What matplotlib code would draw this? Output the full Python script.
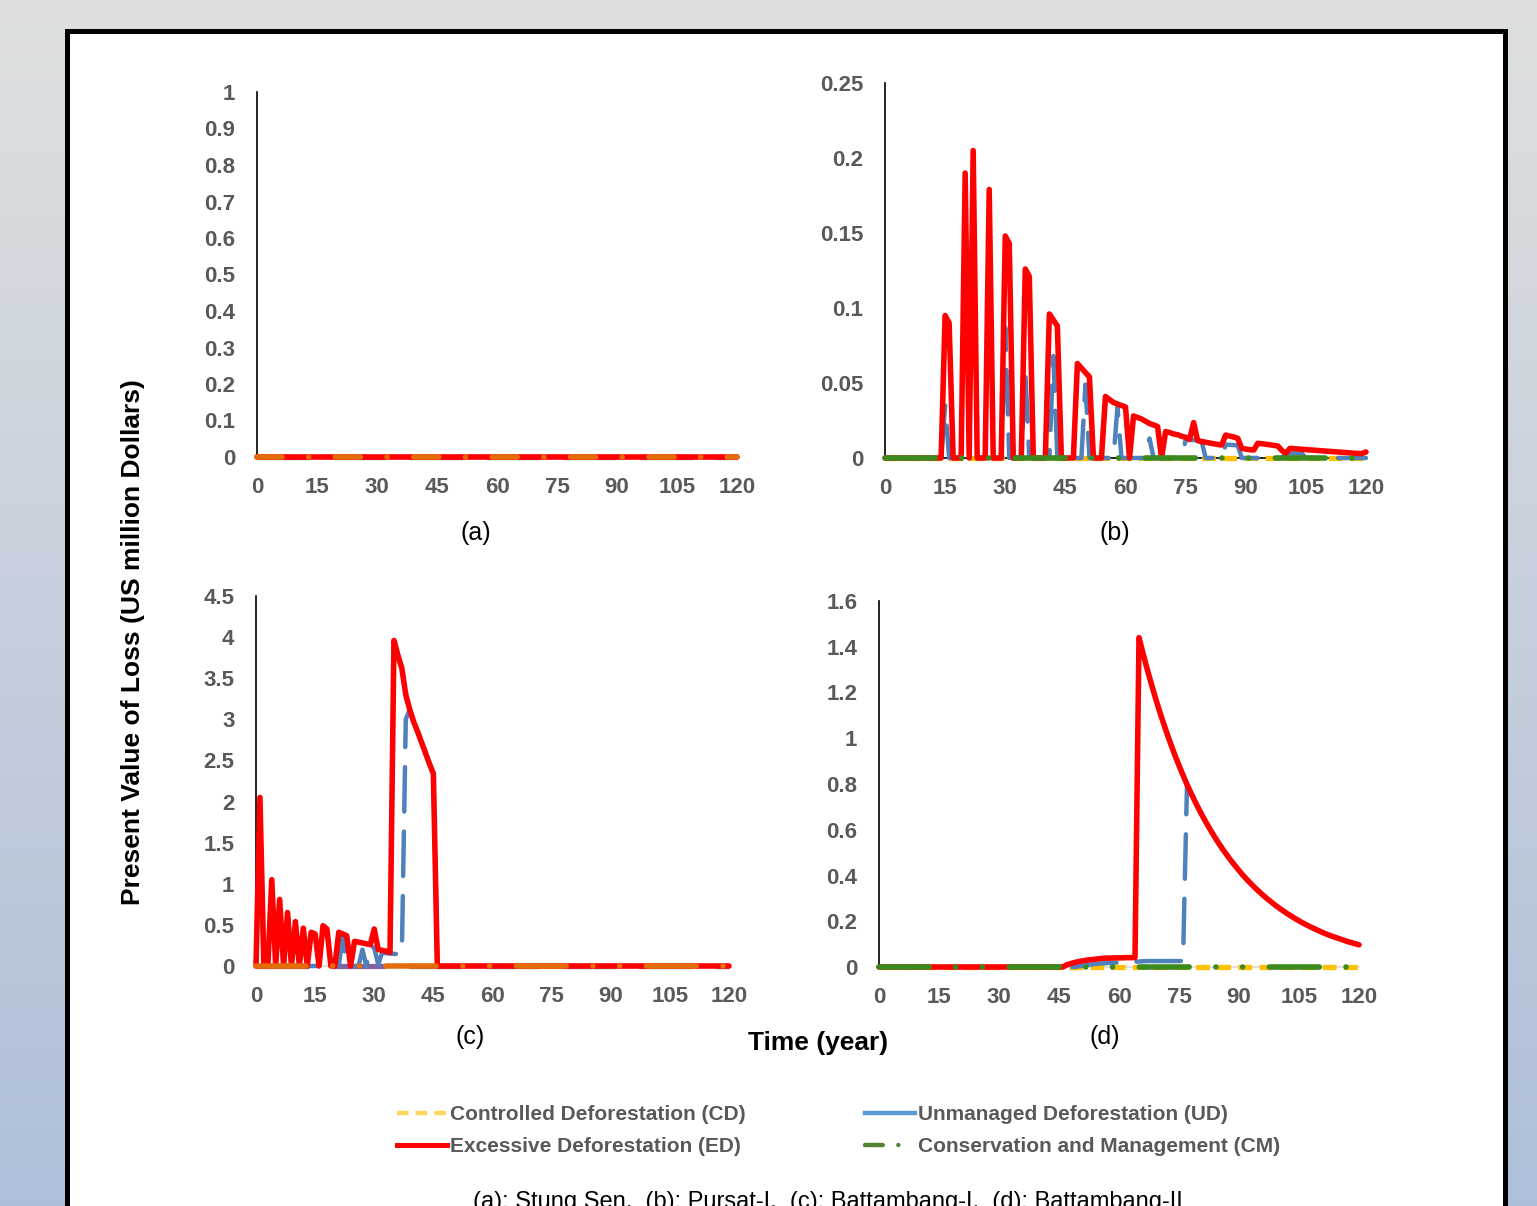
import numpy as np
import matplotlib.pyplot as plt
from matplotlib.lines import Line2D
from matplotlib.patches import Rectangle

plt.rcParams['font.family'] = ['Liberation Sans', 'DejaVu Sans']

W, H = 1537, 1206
years = list(range(0, 121))

# (a) Stung Sen: every scenario is zero
ed_a = [0.0] * 121
cm_a = [0.0] * 121
cd_a = [0.0] * 121
ud_a = [0.0] * 121

# (b) Pursat-I
ed_b = ([0] * 15 +
        [0.095, 0.090, 0, 0, 0, 0.190, 0, 0.205, 0, 0] +
        [0, 0.179, 0, 0, 0, 0.148, 0.143, 0, 0, 0] +
        [0.126, 0.121, 0, 0, 0, 0, 0.096, 0.092, 0.088, 0] +
        [0, 0, 0, 0.063, 0.060, 0.057, 0.054, 0, 0, 0] +
        [0.041, 0.039, 0.037, 0.036, 0.035, 0.034, 0, 0.028, 0.027, 0.026] +
        [0.0245, 0.023, 0.022, 0.021, 0, 0.0176, 0.017, 0.016, 0.0155, 0.0145] +
        [0.0138, 0.0125, 0.0236, 0.0115, 0.011, 0.0105, 0.010, 0.0095, 0.009, 0.0087] +
        [0.0153, 0.0146, 0.014, 0.0131, 0.0064, 0.006, 0.0056, 0.0053, 0.0098, 0.0095] +
        [0.0092, 0.0088, 0.0084, 0.008, 0.005, 0.0031, 0.0064, 0.0062, 0.006, 0.0058] +
        [0.0056, 0.0054, 0.0052, 0.005, 0.0048, 0.0046, 0.0044, 0.0042, 0.004, 0.0038] +
        [0.0036, 0.0034, 0.0032, 0.003, 0.003, 0.004])
ud_b = ([0] * 15 +
        [0.035, 0, 0, 0, 0, 0, 0, 0, 0, 0] +
        [0, 0, 0, 0, 0, 0.087, 0, 0, 0, 0] +
        [0.058, 0, 0, 0, 0, 0, 0, 0.068, 0, 0] +
        [0, 0, 0, 0, 0, 0.049, 0, 0, 0, 0] +
        [0, 0, 0, 0.034, 0, 0, 0, 0, 0, 0] +
        [0, 0.013, 0, 0, 0, 0, 0, 0, 0, 0] +
        [0.012, 0.012, 0.012, 0.012, 0.011, 0, 0, 0, 0, 0] +
        [0.009, 0.0088, 0.0086, 0.0085, 0, 0, 0, 0, 0, 0] +
        [0, 0, 0, 0, 0, 0.003, 0.003, 0.003, 0.003, 0.003] +
        [0] * 16)
cd_b = [0.0] * 121
cm_b = [0.0] * 121

# (c) Battambang-I
ed_c = ([0, 2.05, 0, 0, 1.05, 0, 0.81, 0, 0.65, 0] +
        [0.54, 0, 0.46, 0, 0.41, 0.39, 0, 0.49, 0.45, 0] +
        [0, 0.41, 0.39, 0.37, 0, 0.30, 0.29, 0.28, 0.27, 0.26] +
        [0.45, 0.20, 0.19, 0.18, 0.165, 3.96, 3.78, 3.62, 3.30, 3.12] +
        [2.97, 2.85, 2.72, 2.59, 2.46, 2.34] +
        [0] * 75)
ud_c = ([0, 1.5, 0, 0, 0, 0, 0, 0, 0, 0] +
        [0] * 10 +
        [0, 0, 0.36, 0, 0, 0, 0, 0.2, 0, 0.25] +
        [0.22, 0.02, 0.16, 0.155, 0.15, 0.148, 0.145, 0.14, 3.0, 3.12] +
        [2.97, 2.85, 2.72, 2.59, 2.46, 2.34] +
        [0] * 75)
cd_c = [0.0] * 121
cm_c = [0.0] * 121

# (d) Battambang-II
ed_d = ([0] * 47 +
        [0.010, 0.015, 0.020, 0.024, 0.027, 0.030, 0.032, 0.034, 0.036, 0.038] +
        [0.039, 0.039, 0.040, 0.040, 0.040, 0.041, 0.041, 0.041] +
        [1.44, 1.371, 1.305, 1.243, 1.183, 1.126, 1.072, 1.021, 0.972, 0.925] +
        [0.881, 0.839, 0.798, 0.760, 0.724, 0.689, 0.656, 0.625, 0.595, 0.566] +
        [0.539, 0.513, 0.489, 0.465, 0.443, 0.422, 0.401, 0.382, 0.364, 0.346] +
        [0.330, 0.314, 0.299, 0.285, 0.271, 0.258, 0.246, 0.234, 0.223, 0.212] +
        [0.202, 0.192, 0.183, 0.174, 0.166, 0.158, 0.150, 0.143, 0.136, 0.130] +
        [0.124, 0.118, 0.112, 0.107, 0.102, 0.097])
ud_d = ([0] * 50 +
        [0.003, 0.006, 0.009, 0.011, 0.013, 0.015, 0.016, 0.017, 0.018, 0.019] +
        [0.019, 0.020, 0.021, 0.022, 0.023, 0.024, 0.025, 0.026, 0.026, 0.026] +
        [0.026] * 7 +
        ed_d[77:])
cd_d = [0.0] * 121
cm_d = [0.0] * 121

x_ticks = list(range(0, 121, 15))
yt_a = [0, 0.1, 0.2, 0.3, 0.4, 0.5, 0.6, 0.7, 0.8, 0.9, 1]
yl_a = ['0', '0.1', '0.2', '0.3', '0.4', '0.5', '0.6', '0.7', '0.8', '0.9', '1']
yt_b = [0, 0.05, 0.1, 0.15, 0.2, 0.25]
yl_b = ['0', '0.05', '0.1', '0.15', '0.2', '0.25']
yt_c = [0, 0.5, 1, 1.5, 2, 2.5, 3, 3.5, 4, 4.5]
yl_c = ['0', '0.5', '1', '1.5', '2', '2.5', '3', '3.5', '4', '4.5']
yt_d = [0, 0.2, 0.4, 0.6, 0.8, 1, 1.2, 1.4, 1.6]
yl_d = ['0', '0.2', '0.4', '0.6', '0.8', '1', '1.2', '1.4', '1.6']

RED = '#FF0000'
BLUE = '#4F81BD'
YELLOW = '#FFC000'
GREEN = '#3A8A1E'
ORANGE = '#E46C0A'
PURPLE = '#8064A2'
LONG_DASH = (10, 4.5)
SHORT_DASH = (2.6, 1.4)
DASH_DOT_DOT = (9, 4.8, 0.01, 4.8, 0.01, 4.8)
DASH_DOT = (4.5, 4.8, 0.01, 4.8)

fig = plt.figure(figsize=(W / 100, H / 100), dpi=100)

# page background and frame
bg = fig.add_axes([0, 0, 1, 1], zorder=-10)
top = np.array([0.871, 0.878, 0.878])
bot = np.array([0.682, 0.749, 0.851])
t = np.linspace(0, 1, 256)[:, None]
grad = (top * (1 - t) + bot * t)[:, None, :]
bg.imshow(grad, aspect='auto', extent=[0, 1, 0, 1])
bg.add_patch(Rectangle((66.5 / W, -0.05), (1505 - 66.5) / W, 1.05 - 30.8 / H,
                       transform=bg.transAxes, facecolor='white',
                       edgecolor='black', lw=3.6))
bg.set_xlim(0, 1)
bg.set_ylim(0, 1)
bg.axis('off')


def add_panel(px_left, px_right, px_top, px_bottom):
    return fig.add_axes([px_left / W, 1 - px_bottom / H,
                         (px_right - px_left) / W, (px_bottom - px_top) / H])


def style(ax, ymax, yt, yl, bottom_color):
    ax.set_xlim(0, 120)
    ax.set_ylim(0, ymax)
    ax.set_xticks(x_ticks)
    ax.set_xticklabels([str(v) for v in x_ticks], fontweight='bold')
    ax.set_yticks(yt)
    ax.set_yticklabels(yl, fontweight='bold')
    ax.tick_params(length=0, labelsize=16, labelcolor='#595959')
    ax.tick_params(axis='y', pad=15.5)
    ax.tick_params(axis='x', pad=14.5)
    for s in ['top', 'right']:
        ax.spines[s].set_visible(False)
    ax.spines['left'].set_color('black')
    ax.spines['left'].set_linewidth(1.2)
    ax.spines['bottom'].set_color(bottom_color)
    ax.spines['bottom'].set_linewidth(1.2)
    ax.patch.set_alpha(0)


def draw(ax, cd, ud, ed, cm, cd_color, cm_color, cm_dash):
    # lines sit above the axis spines, as in the original chart
    ax.plot(years, cd, color=cd_color, lw=3.8, zorder=3,
            dashes=SHORT_DASH if cd_color == YELLOW else LONG_DASH, clip_on=False)
    ax.plot(years, ud, color=BLUE, lw=3.2, dashes=LONG_DASH, dash_capstyle='round',
            zorder=3, clip_on=False)
    ax.plot(years, ed, color=RED, lw=4, solid_joinstyle='round',
            solid_capstyle='round', zorder=3, clip_on=False)
    ax.plot(years, cm, color=cm_color, lw=4, dashes=cm_dash, dash_capstyle='round',
            zorder=3, clip_on=False)


ax_a = add_panel(257, 737, 92, 457)
draw(ax_a, cd_a, ud_a, ed_a, cm_a, PURPLE, ORANGE, DASH_DOT)
style(ax_a, 1, yt_a, yl_a, '#D9D9D9')

ax_b = add_panel(885, 1366, 83, 458)
draw(ax_b, cd_b, ud_b, ed_b, cm_b, YELLOW, GREEN, DASH_DOT_DOT)
style(ax_b, 0.25, yt_b, yl_b, 'black')

ax_c = add_panel(256, 729, 596, 966)
draw(ax_c, cd_c, ud_c, ed_c, cm_c, PURPLE, ORANGE, DASH_DOT_DOT)
style(ax_c, 4.5, yt_c, yl_c, '#D9D9D9')

ax_d = add_panel(879, 1359, 601, 967)
draw(ax_d, cd_d, ud_d, ed_d, cm_d, YELLOW, GREEN, DASH_DOT_DOT)
style(ax_d, 1.6, yt_d, yl_d, '#D9D9D9')

# panel captions
for lbl, px, py in [('(a)', 476, 533), ('(b)', 1115, 533), ('(c)', 470, 1037), ('(d)', 1105, 1037)]:
    fig.text(px / W, 1 - py / H, lbl, fontsize=18, ha='center', va='center')

fig.text(133 / W, 1 - 642 / H, 'Present Value of Loss (US million Dollars)',
         rotation=90, fontsize=19, fontweight='bold', ha='center', va='center')
fig.text(818 / W, 1 - 1043 / H, 'Time (year)', fontsize=19, fontweight='bold',
         ha='center', va='center')

handles = [
    Line2D([], [], color='#FFD55A', lw=3.2, dashes=(2.6, 1.6)),
    Line2D([], [], color=RED, lw=3.6),
    Line2D([], [], color='#5B9BD5', lw=3.2),
    Line2D([], [], color='#548235', lw=3.2, dashes=(4, 3.5, 0.01, 6), dash_capstyle='round'),
]
labels = ['Controlled Deforestation (CD)', 'Excessive Deforestation (ED)',
          'Unmanaged Deforestation (UD)', 'Conservation and Management (CM)']
fig.legend(handles, labels, ncol=2, loc='upper left',
           bbox_to_anchor=(397 / W, 1 - 1105 / H), frameon=False,
           prop={'weight': 'bold', 'size': 15}, labelcolor='#595959',
           handlelength=2.4, handletextpad=0.15, columnspacing=5.7,
           labelspacing=0.64, borderpad=0, borderaxespad=0)

fig.text(828 / W, 1 - 1208 / H,
         '(a): Stung Sen,  (b): Pursat-I,  (c): Battambang-I,  (d): Battambang-II',
         fontsize=17, ha='center', va='baseline')

fig.savefig('out.png', dpi=100)
